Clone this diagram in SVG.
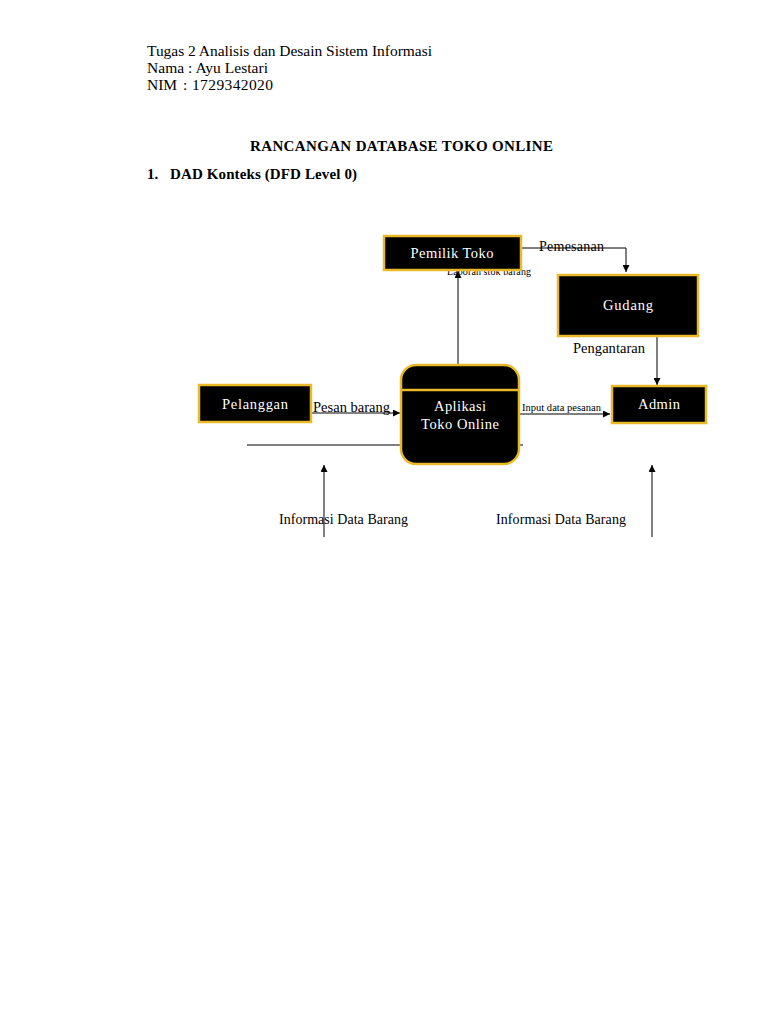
<svg xmlns="http://www.w3.org/2000/svg" width="768" height="1024" viewBox="0 0 768 1024">
<style>
.t{font-family:"Liberation Serif","Times New Roman",serif;fill:#000}
.w{font-family:"Liberation Serif","Times New Roman",serif;fill:#fff;font-size:14.5px;text-anchor:middle}
.box{fill:#000;stroke:#eab92a;stroke-width:2.5}
.ln{stroke:#000;stroke-width:1;fill:none}
</style>
<defs>
<marker id="ah" viewBox="0 0 10 10" refX="10" refY="5" markerWidth="8" markerHeight="7" markerUnits="userSpaceOnUse" orient="auto">
<path d="M0,0 L10,5 L0,10 z" fill="#000"/>
</marker>
</defs>
<rect width="768" height="1024" fill="#fff"/>
<g id="header">
<text class="t" x="147" y="56" font-size="15.5" textLength="285">Tugas 2 Analisis dan Desain Sistem Informasi</text>
<text class="t" x="147" y="73" font-size="15.5" textLength="121">Nama : Ayu Lestari</text>
<text class="t" x="147" y="90" font-size="15.5">NIM</text>
<text class="t" x="183" y="90" font-size="15.5" textLength="90">: 1729342020</text>
<text class="t" x="250" y="151" font-size="15" font-weight="bold" textLength="303">RANCANGAN DATABASE TOKO ONLINE</text>
<text class="t" x="147" y="179" font-size="15" font-weight="bold">1.</text>
<text class="t" x="170" y="179" font-size="15" font-weight="bold" textLength="187">DAD Konteks (DFD Level 0)</text>
</g>
<g id="connectors">
<line class="ln" x1="247" y1="445" x2="523" y2="445"/>
<polyline class="ln" points="521,248 626,248 626,272" marker-end="url(#ah)"/>
<line class="ln" x1="458" y1="365" x2="458" y2="271" marker-end="url(#ah)"/>
<line class="ln" x1="657" y1="337" x2="657" y2="385" marker-end="url(#ah)"/>
<line class="ln" x1="311" y1="413" x2="400" y2="413" marker-end="url(#ah)"/>
<line class="ln" x1="519" y1="414" x2="610" y2="414" marker-end="url(#ah)"/>
<line class="ln" x1="324" y1="537" x2="324" y2="465" marker-end="url(#ah)"/>
<line class="ln" x1="652" y1="537" x2="652" y2="465" marker-end="url(#ah)"/>
<text class="t" x="539" y="251" font-size="14" textLength="65">Pemesanan</text>
<text class="t" x="447" y="275" font-size="10" textLength="84">Laporan stok barang</text>
<text class="t" x="573" y="353" font-size="14.5" textLength="72">Pengantaran</text>
<text class="t" x="313" y="412" font-size="14.5" textLength="77">Pesan barang</text>
<text class="t" x="522" y="411" font-size="10.5" textLength="79">Input data pesanan</text>
<text class="t" x="279" y="524" font-size="14" textLength="129">Informasi Data Barang</text>
<text class="t" x="496" y="524" font-size="14" textLength="130">Informasi Data Barang</text>
</g>
<g id="pemilik">
<rect class="box" x="384" y="236" width="137" height="34"/>
<text class="w" x="452" y="258" textLength="83">Pemilik Toko</text>
</g>
<g id="gudang">
<rect class="box" x="558" y="275" width="140" height="61"/>
<text class="w" x="628" y="310" textLength="50">Gudang</text>
</g>
<g id="admin">
<rect class="box" x="612" y="386" width="94" height="37"/>
<text class="w" x="659" y="409" textLength="42">Admin</text>
</g>
<g id="pelanggan">
<rect class="box" x="199" y="385" width="112" height="37"/>
<text class="w" x="255" y="409" textLength="66">Pelanggan</text>
</g>
<g id="aplikasi">
<rect class="box" x="401" y="365" width="118" height="99" rx="15"/>
<line x1="401" y1="390" x2="519" y2="390" stroke="#eab92a" stroke-width="2.5"/>
<text class="w" x="460" y="411" textLength="52">Aplikasi</text>
<text class="w" x="460" y="429" textLength="78">Toko Online</text>
</g>
</svg>
